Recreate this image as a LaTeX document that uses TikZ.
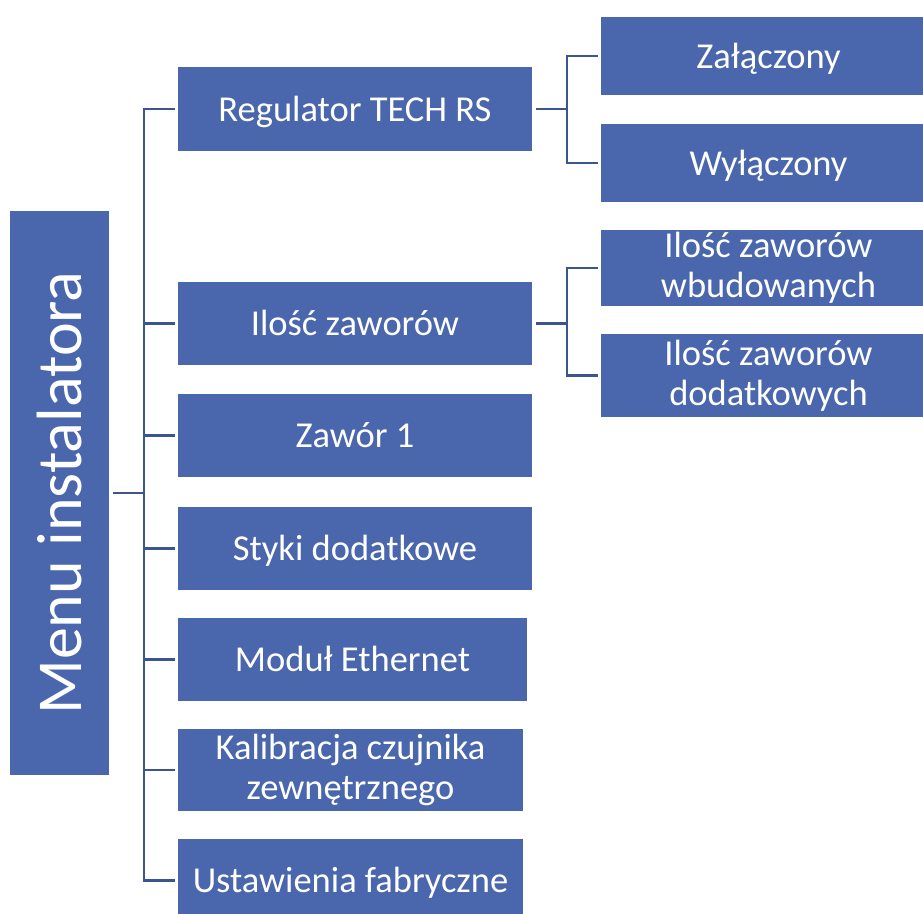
\documentclass[tikz,border=0pt]{standalone}
\usepackage{fontspec}
\setmainfont{Carlito}
\usepackage{graphicx}
\definecolor{boxblue}{RGB}{74,103,173}
\definecolor{lineblue}{RGB}{59,85,145}
\begin{document}
\begin{tikzpicture}[x=1pt,y=-1pt,
  box/.style={fill=boxblue,text=white,inner sep=0pt,align=center,font=\fontsize{36.5}{40}\selectfont},
  one/.style={text height=28pt,text depth=4pt},
  conn/.style={draw=lineblue,line width=2.9pt}]
\useasboundingbox (0,0) rectangle (923,913);
\clip (0,0) rectangle (923,913);
% main
\node[box,minimum width=99pt,minimum height=564pt,font=\fontsize{64}{70}\selectfont] (main) at (59.5,493) {\rotatebox{90}{Menu instalatora}};
% level 1
\node[box,one,minimum width=354pt,minimum height=84pt] (reg) at (355,109) {Regulator TECH RS};
\node[box,one,minimum width=354pt,minimum height=83pt] (ilosc) at (355,323.5) {Ilość zaworów};
\node[box,one,minimum width=354pt,minimum height=83pt] (zawor) at (355,435.5) {Zawór 1};
\node[box,one,minimum width=354pt,minimum height=83pt] (styki) at (355,548.5) {Styki dodatkowe};
\node[box,one,minimum width=349pt,minimum height=83pt] (modul) at (352.5,659.5) {Moduł Ethernet};
\node[box,minimum width=345pt,minimum height=82pt] (kalib) at (350.5,770) {Kalibracja czujnika\\zewnętrznego};
\node[box,one,minimum width=345pt,minimum height=83pt] (ustaw) at (350.5,880.5) {Ustawienia fabryczne};
% level 2
\node[box,one,minimum width=335pt,minimum height=78pt] (zal) at (768.5,56) {Załączony};
\node[box,one,minimum width=335pt,minimum height=78pt] (wyl) at (768.5,163) {Wyłączony};
\node[box,minimum width=335pt,minimum height=76pt] (wbud) at (768.5,268) {Ilość zaworów\\wbudowanych};
\node[box,minimum width=335pt,minimum height=83pt] (dodat) at (768.5,375.5) {Ilość zaworów\\dodatkowych};
% connectors
\coordinate (t) at (144,493);
\draw[conn] ([xshift=4pt]main.east) -- (t);
\foreach \c in {reg,ilosc,zawor,styki,modul,kalib,ustaw}
  \draw[conn,shorten >=3pt] (t) |- (\c.west);
\coordinate (r1) at (567,109);
\draw[conn] ([xshift=4pt]reg.east) -- (r1);
\foreach \c in {zal,wyl}
  \draw[conn,shorten >=3pt] (r1) |- (\c.west);
\coordinate (r2) at (567,323.5);
\draw[conn] ([xshift=4pt]ilosc.east) -- (r2);
\foreach \c in {wbud,dodat}
  \draw[conn,shorten >=3pt] (r2) |- (\c.west);
\end{tikzpicture}
\end{document}
